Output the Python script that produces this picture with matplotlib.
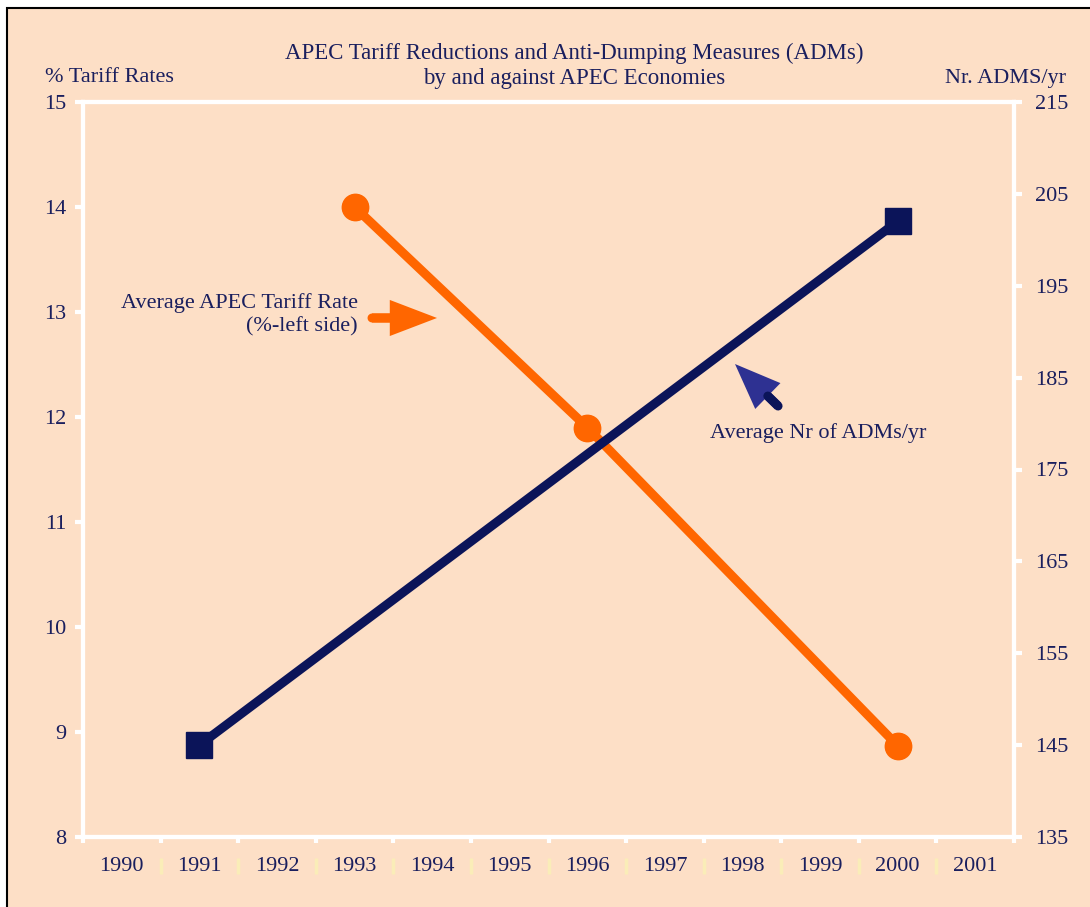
import numpy as np
import matplotlib
matplotlib.use('Agg')
import matplotlib.pyplot as plt
from matplotlib.patches import Rectangle

# ---- data ----
years = ['1990', '1991', '1992', '1993', '1994', '1995',
         '1996', '1997', '1998', '1999', '2000', '2001']
tariff_years = ['1993', '1996', '2000']
tariff_values = [14.0, 11.9, 8.87]
adm_years = ['1991', '2000']
adm_values = [145, 202]
left_ticks = [8, 9, 10, 11, 12, 13, 14, 15]
right_ticks = [135, 145, 155, 165, 175, 185, 195, 205, 215]

title = "APEC Tariff Reductions and Anti-Dumping Measures (ADMs)\nby and against APEC Economies"
left_label = "% Tariff Rates"
right_label = "Nr. ADMS/yr"
tariff_note = "Average APEC Tariff Rate\n(%-left side)"
adm_note = "Average Nr of ADMs/yr"

# ---- style ----
BG = '#FDDFC6'
NAVY = '#0B1459'
HEAD = '#2E3192'
ORANGE = '#FF6600'
TEXT = '#1A1F5E'
SEP = '#FAEDB8'
FONT = ['Liberation Serif', 'DejaVu Serif']
FS = 16

plt.rcParams['font.family'] = FONT

W, H = 1090, 907
fig = plt.figure(figsize=(W / 100, H / 100), dpi=100)
fig.patch.set_facecolor('white')
fig.add_artist(Rectangle((7 / W, -0.1), 1.2, 1.1 - 8 / H, transform=fig.transFigure,
                         facecolor=BG, edgecolor='black', linewidth=1.5, zorder=-10))

ax = fig.add_axes([83 / W, 70 / H, 931 / W, 735 / H])
ax.set_facecolor('none')
ax2 = ax.twinx()

idx = {y: i for i, y in enumerate(years)}
tx = [idx[y] for y in tariff_years]
axx = [idx[y] for y in adm_years]

ax.plot(tx, tariff_values, color=ORANGE, lw=6.5, marker='o', markersize=19,
        solid_capstyle='butt', zorder=3)
ax2.plot(axx, adm_values, color=NAVY, lw=6.5, marker='s', markersize=19,
         solid_capstyle='butt', zorder=3)

ax.set_xlim(-0.5, len(years) - 0.5)
ax.set_ylim(left_ticks[0], left_ticks[-1])
ax2.set_ylim(right_ticks[0], right_ticks[-1])

for a in (ax, ax2):
    for s in a.spines.values():
        s.set_color('white')
        s.set_linewidth(3)

ax.set_yticks(left_ticks)
ax.set_yticklabels([str(v) for v in left_ticks])
ax.tick_params(axis='y', direction='out', length=6, width=3, color='white',
               labelcolor=TEXT, labelsize=FS, pad=6)
ax2.set_yticks(right_ticks)
ax2.set_yticklabels([str(v) for v in right_ticks])
ax2.tick_params(axis='y', direction='out', length=6, width=3, color='white',
                labelcolor=TEXT, labelsize=FS, pad=9)

edges = np.arange(-0.5, len(years), 1)
ax.set_xticks(edges)
ax.set_xticklabels([''] * len(edges))
ax.set_xticks(range(len(years)), minor=True)
ax.set_xticklabels(years, minor=True)
ax.tick_params(axis='x', which='major', direction='out', length=4.5, width=3, color='white')
ax.tick_params(axis='x', which='minor', length=0, labelcolor=TEXT, labelsize=FS, pad=14.5)

sec = ax.secondary_xaxis(-21 / 735)
sec.set_xticks(edges[1:-1])
sec.set_xticklabels([''] * (len(edges) - 2))
sec.tick_params(axis='x', direction='out', length=11.5, width=2.5, color=SEP)
for s in sec.spines.values():
    s.set_visible(False)

# titles
fig.text(574 / W, 1 - 66 / H, title, ha='center', va='center', color=TEXT,
         fontsize=FS + 0.5, linespacing=1.27)
fig.text(45 / W, 1 - 78 / H, left_label, ha='left', va='center', color=TEXT, fontsize=FS)
fig.text(1066 / W, 1 - 78 / H, right_label, ha='right', va='center', color=TEXT, fontsize=FS)

# orange annotation
ax.text(3.045, 12.976, tariff_note, ha='right', va='center', color=TEXT,
        fontsize=FS, multialignment='right', linespacing=1.27)
ax.annotate('', xy=(4.063, 12.943), xytext=(3.225, 12.943),
            arrowprops=dict(arrowstyle='simple,head_length=3.4,head_width=2.6,tail_width=0.65',
                            fc=ORANGE, ec='none', mutation_scale=10,
                            shrinkA=0, shrinkB=0), zorder=4)
ax.annotate('', xy=(4.063, 12.943), xytext=(3.225, 12.943),
            arrowprops=dict(arrowstyle='-', color=ORANGE, lw=6.5, capstyle='round',
                            shrinkA=0, shrinkB=30), zorder=4)

# navy annotation
ax2.text(8.974, 178.97, adm_note, ha='center', va='center', color=TEXT, fontsize=FS)
ax2.annotate('', xy=(7.904, 186.48), xytext=(8.459, 181.91),
             arrowprops=dict(arrowstyle='simple,head_length=3.3,head_width=2.6,tail_width=0.65',
                             fc=HEAD, ec='none', mutation_scale=10,
                             shrinkA=0, shrinkB=0), zorder=4)
ax2.annotate('', xy=(7.904, 186.48), xytext=(8.459, 181.91),
             arrowprops=dict(arrowstyle='-', color=NAVY, lw=6.5, capstyle='round',
                             shrinkA=0, shrinkB=33), zorder=5)

fig.savefig('out.png', dpi=100)
